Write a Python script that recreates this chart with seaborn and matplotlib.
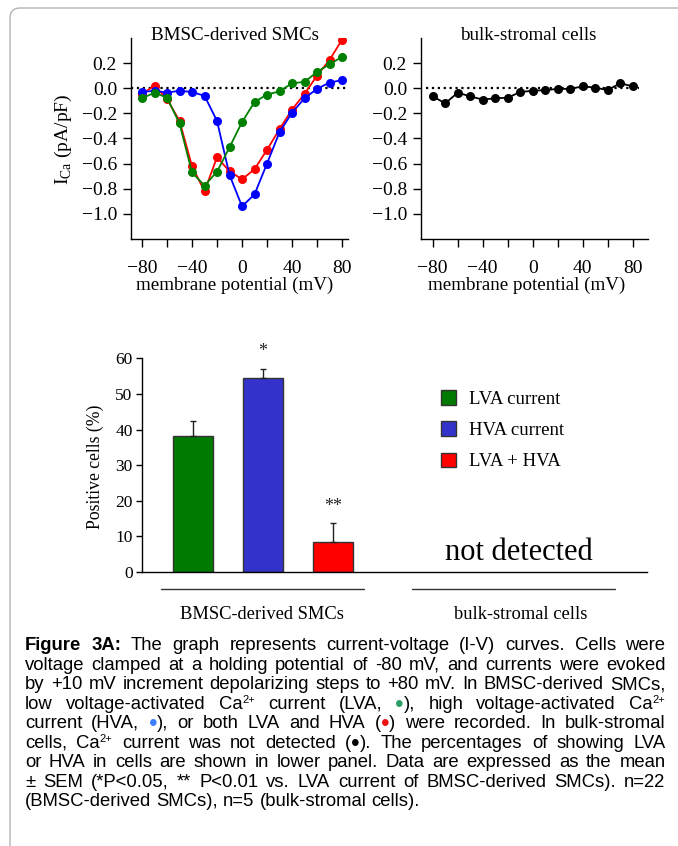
import re
import numpy as np
import pandas as pd
import matplotlib
matplotlib.use("Agg")
import matplotlib.pyplot as plt
import matplotlib.transforms as mtransforms
from matplotlib.patches import Patch, FancyBboxPatch
import seaborn as sns

# ---------------- data ----------------
voltage = [-80, -70, -60, -50, -40, -30, -20, -10, 0, 10, 20, 30, 40, 50, 60, 70, 80]
lva_current = [-0.08, -0.035, -0.075, -0.28, -0.67, -0.775, -0.665, -0.47, -0.27,
               -0.11, -0.05, -0.025, 0.04, 0.05, 0.13, 0.19, 0.25]
hva_current = [-0.03, -0.02, -0.035, -0.02, -0.03, -0.06, -0.26, -0.69, -0.94,
               -0.845, -0.60, -0.35, -0.195, -0.08, -0.005, 0.045, 0.065]
both_current = [-0.045, 0.02, -0.085, -0.26, -0.62, -0.82, -0.55, -0.66, -0.725,
                -0.645, -0.49, -0.325, -0.17, -0.045, 0.10, 0.225, 0.385]
bulk_current = [-0.065, -0.12, -0.035, -0.065, -0.09, -0.08, -0.075, -0.03, -0.02,
                -0.015, -0.005, -0.005, 0.015, 0.005, -0.015, 0.04, 0.015]

iv_series = ["LVA + HVA", "HVA", "LVA"]
iv_colors = {"LVA": "#008000", "HVA": "#0000ff", "LVA + HVA": "#ff0000"}

bar_categories = ["LVA current", "HVA current", "LVA + HVA"]
bar_values = [38.1, 54.5, 8.4]
bar_sem = [4.2, 2.5, 5.3]
bar_signif = ["", "*", "**"]
bar_colors = ["#007a00", "#3333cc", "#ff0000"]

iv_yticks = [-1.0, -0.8, -0.6, -0.4, -0.2, 0.0, 0.2]
iv_xticks = [-80, -60, -40, -20, 0, 20, 40, 60, 80]
iv_xticklabels = ["-80", "", "-40", "", "0", "", "40", "", "80"]
bar_yticks = [0, 10, 20, 30, 40, 50, 60]

caption_lines = [
    "Figure 3A: The graph represents current-voltage (I-V) curves. Cells were",
    "voltage clamped at a holding potential of -80 mV, and currents were evoked",
    "by +10 mV increment depolarizing steps to +80 mV. In BMSC-derived SMCs,",
    "low voltage-activated Ca^{2+} current (LVA, {G}), high voltage-activated Ca^{2+}",
    "current (HVA, {B}), or both LVA and HVA ({R}) were recorded. In bulk-stromal",
    "cells, Ca^{2+} current was not detected ({K}).  The percentages of showing LVA",
    "or HVA in cells are shown in lower panel. Data are expressed as the mean",
    "\u00b1 SEM (*P<0.05, ** P<0.01 vs. LVA current of BMSC-derived SMCs). n=22",
    "(BMSC-derived SMCs), n=5 (bulk-stromal cells).",
]
dot_colors = {"{G}": "#2e9e68", "{B}": "#3d7fff", "{R}": "#ee1111", "{K}": "#000000"}

# ---------------- style ----------------
sns.set_theme(style="ticks")
plt.rcParams["font.family"] = ["Liberation Serif", "DejaVu Serif"]
plt.rcParams["axes.linewidth"] = 1.0
plt.rcParams["axes.edgecolor"] = "black"
plt.rcParams["xtick.color"] = "black"
plt.rcParams["ytick.color"] = "black"
plt.rcParams["text.color"] = "black"

W, H = 678.0, 846.0
fig = plt.figure(figsize=(W / 100, H / 100), dpi=100)
fig.patch.set_facecolor("white")


def fx(px):
    return px / W


def fy(py):
    return 1 - py / H


# rounded frame
frame = FancyBboxPatch((10, -40), 720, 846 - 8 + 40, boxstyle="round,pad=0,rounding_size=10",
                       transform=mtransforms.IdentityTransform(), facecolor="none",
                       edgecolor="#b5b5b5", linewidth=1.0, zorder=0)
fig.add_artist(frame)

# ---------------- I-V panels ----------------
iv_df = pd.DataFrame({
    "V": voltage * 3,
    "I": both_current + hva_current + lva_current,
    "type": ["LVA + HVA"] * len(voltage) + ["HVA"] * len(voltage) + ["LVA"] * len(voltage),
})
bulk_df = pd.DataFrame({"V": voltage, "I": bulk_current})

ax1 = fig.add_axes([fx(131), fy(239), fx(217), 201 / H])
ax2 = fig.add_axes([fx(421), fy(239), fx(226.7), 201 / H])

sns.lineplot(data=iv_df, x="V", y="I", hue="type", hue_order=iv_series, palette=iv_colors,
             marker="o", markersize=6.5, markeredgewidth=0, linewidth=1.3, legend=False,
             ax=ax1, zorder=3)
sns.lineplot(data=bulk_df, x="V", y="I", color="black", marker="o", markersize=6.5,
             markeredgewidth=0, linewidth=1.3, legend=False, ax=ax2, zorder=3)

ax1.axhline(0, ls=":", color="black", lw=1.6, zorder=2)
ax2.axhline(0, ls=":", color="black", lw=1.6, xmin=0.02, xmax=0.96, zorder=2)

for ax, xl, title, tx, lx in [(ax1, (-88.8, 84.8), "BMSC-derived SMCs", 0.479, 0.479),
                              (ax2, (-89.4, 92), "bulk-stromal cells", 0.472, 0.466)]:
    ax.set_xlim(*xl)
    ax.set_ylim(-1.2, 0.4)
    ax.set_yticks(iv_yticks)
    ax.set_yticklabels([f"{v:.1f}".replace("-", "\u2212") for v in iv_yticks])
    ax.set_xticks(iv_xticks)
    ax.set_xticklabels([t.replace("-", "\u2212") for t in iv_xticklabels])
    ax.tick_params(axis="both", direction="out", length=6, width=1, labelsize=14)
    ax.tick_params(axis="y", pad=4)
    ax.tick_params(axis="x", pad=9)
    for s in ["top", "right"]:
        ax.spines[s].set_visible(False)
    ax.set_xlabel("")
    ax.set_ylabel("")
    ax.text(tx, 0.99, title, transform=ax.transAxes, ha="center", va="baseline", fontsize=13.7)
    ax.text(lx, -0.254, "membrane potential (mV)", transform=ax.transAxes, ha="center",
            va="baseline", fontsize=13.7)

fig.text(fx(63.7), fy(139), "I$_{\\mathregular{Ca}}$ (pA/pF)", rotation=90, ha="center",
         va="center", fontsize=14)

# ---------------- bar panel ----------------
ax3 = fig.add_axes([fx(141.7), fy(572), fx(505), 213.7 / H])
sns.barplot(x=bar_categories, y=bar_values, hue=bar_categories, palette=bar_colors,
            width=0.58, edgecolor="#333333", linewidth=1.0, legend=False, ax=ax3,
            errorbar=None, saturation=1)
xpos = np.arange(len(bar_categories))
ax3.errorbar(xpos, bar_values, yerr=[np.zeros(len(bar_values)), bar_sem], fmt="none",
             ecolor="#222222", elinewidth=1.0, capsize=2.3, capthick=1.0, zorder=4)
for x, v, e, s in zip(xpos, bar_values, bar_sem, bar_signif):
    if s:
        ax3.text(x, v + e + 4.8, s, ha="center", va="center", fontsize=13, color="#222222")

ax3.set_xlim(-0.733, 6.48)
ax3.set_ylim(0, 60)
ax3.set_yticks(bar_yticks)
ax3.set_xticks([])
ax3.tick_params(axis="y", direction="out", length=4.5, width=1, labelsize=12.5, pad=2)
for s in ["top", "right"]:
    ax3.spines[s].set_visible(False)
ax3.set_xlabel("")
ax3.set_ylabel("")
ax3.text(-0.0925, 0.493, "Positive cells (%)", transform=ax3.transAxes, rotation=90,
         ha="center", va="center", fontsize=12.7)

# group lines and labels
blend = mtransforms.blended_transform_factory(ax3.transData, ax3.transAxes)
for (x0, x1), xc, lab in [((-0.453, 2.443), 0.99, "BMSC-derived SMCs"),
                          ((3.133, 6.03), 4.676, "bulk-stromal cells")]:
    ax3.plot([x0, x1], [-0.081, -0.081], transform=blend, color="#333333", lw=1.0,
             clip_on=False)
    ax3.text(xc, -0.221, lab, transform=blend, ha="center", va="baseline", fontsize=13.3)

ax3.text(4.65, 3.4, "not detected", ha="center", va="baseline", fontsize=22)

handles = [Patch(facecolor=c, edgecolor="#333333", linewidth=1.0, label=l)
           for c, l in zip(bar_colors, bar_categories)]
ax3.legend(handles=handles, loc="upper left", bbox_to_anchor=(fx(440.7), fy(390)),
           bbox_transform=fig.transFigure, frameon=False, fontsize=13.5,
           handlelength=0.82, handleheight=0.82, handletextpad=0.68, labelspacing=0.72,
           borderpad=0, borderaxespad=0)

# ---------------- caption (justified) ----------------
cap_size = 13.3
cap_left, cap_right = 25.0, 665.5
baseline0, line_step = 650.0, 19.5
renderer = fig.canvas.get_renderer()


def make_segments(word, bold):
    segs = []
    for p in re.split(r"(\{[GBRK]\}|\^\{[^}]*\})", word):
        if not p:
            continue
        if p in dot_colors:
            segs.append(("\u2022", dot_colors[p], "normal", 17.5, -3.4))
        elif p.startswith("^{"):
            segs.append((p[2:-1], "black", "normal", 8, 6.0))
        else:
            segs.append((p, "black", "bold" if bold else "normal", cap_size, 0.0))
    return segs


for li, line in enumerate(caption_lines):
    words = line.split()
    ybase = baseline0 + li * line_step
    word_objs = []
    for wi, wd in enumerate(words):
        bold = (li == 0 and wi < 2)
        objs = []
        for txt, col, wt, sz, rise in make_segments(wd, bold):
            t = fig.text(0, fy(ybase - rise), txt, color=col, fontweight=wt, fontsize=sz,
                         family=["Liberation Sans", "DejaVu Sans"], ha="left", va="baseline")
            w = t.get_window_extent(renderer).width
            objs.append((t, w))
        word_objs.append(objs)
    widths = [sum(w for _, w in objs) for objs in word_objs]
    last = li == len(caption_lines) - 1
    if last or len(words) < 2:
        gap = 0.278 * cap_size * 100 / 72
    else:
        gap = (cap_right - cap_left - sum(widths)) / (len(words) - 1)
    x = cap_left
    for objs, wsum in zip(word_objs, widths):
        xx = x
        for t, w in objs:
            t.set_x(fx(xx))
            xx += w
        x += wsum + gap

fig.savefig("out.png", dpi=100, facecolor="white")
